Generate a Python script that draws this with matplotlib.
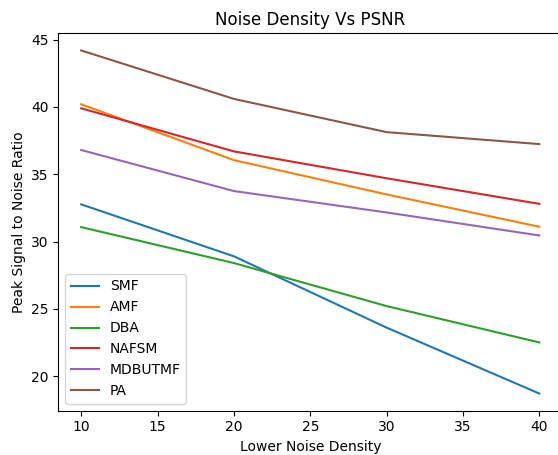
import matplotlib
matplotlib.use("Agg")
import matplotlib.pyplot as plt

noise_density = [10, 20, 30, 40]
smf = [32.76, 28.9, 23.6, 18.7]
amf = [40.2, 36.05, 33.5, 31.1]
dba = [31.07, 28.4, 25.2, 22.5]
nafsm = [39.9, 36.7, 34.7, 32.8]
mdbutmf = [36.8, 33.75, 32.16, 30.45]
pa = [44.2, 40.6, 38.13, 37.24]

fig = plt.figure(figsize=(5.58, 4.55), dpi=100)
# the original picture was cut off on the right, so the axes run past the edge
ax = fig.add_axes([58.3 / 558, 1 - 410.7 / 455, (562.2 - 58.3) / 558, (410.7 - 33.3) / 455])

ax.plot(noise_density, smf, label="SMF")
ax.plot(noise_density, amf, label="AMF")
ax.plot(noise_density, dba, label="DBA")
ax.plot(noise_density, nafsm, label="NAFSM")
ax.plot(noise_density, mdbutmf, label="MDBUTMF")
ax.plot(noise_density, pa, label="PA")

ax.set_title("Noise Density Vs PSNR")
ax.set_xlabel("Lower Noise Density")
ax.set_ylabel("Peak Signal to Noise Ratio")
ax.legend(loc="lower left")

fig.savefig("out.png", dpi=100)
